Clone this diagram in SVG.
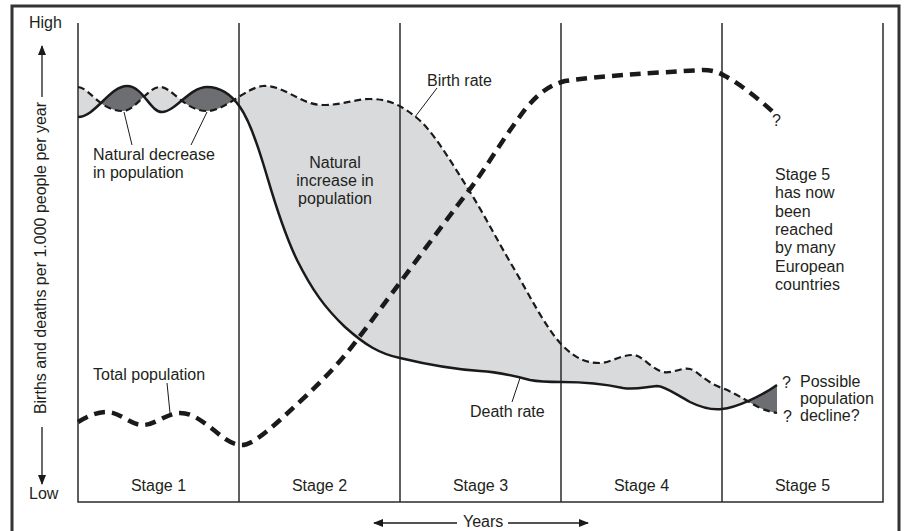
<svg xmlns="http://www.w3.org/2000/svg" width="905" height="531" viewBox="0 0 905 531">
  <style>
    text { font-family: "Liberation Sans", Arial, sans-serif; font-size: 16px; fill: #231f20; }
    .mid { text-anchor: middle; }
    .frame { fill: none; stroke: #333; stroke-width: 3; }
    .grid { fill: none; stroke: #2b2b2b; stroke-width: 1.5; }
    .death { fill: none; stroke: #1a1a1a; stroke-width: 2.5; }
    .birth { fill: none; stroke: #1a1a1a; stroke-width: 2.2; stroke-dasharray: 7 4; }
    .total { fill: none; stroke: #1a1a1a; stroke-width: 4.5; stroke-dasharray: 11 7; }
    .lead { fill: none; stroke: #1a1a1a; stroke-width: 1; }
    .axis { fill: none; stroke: #1a1a1a; stroke-width: 1.3; }
    .light { fill: #d9dadc; }
    .dark { fill: #6d6e71; }
  </style>
  <defs>
    <marker id="ah" viewBox="0 0 10 8" refX="9" refY="4" markerWidth="10" markerHeight="8" markerUnits="userSpaceOnUse" orient="auto">
      <path d="M0,0 L10,4 L0,8 Z" fill="#1a1a1a"/>
    </marker>
    <clipPath id="belowB">
      <path d="M78,87 C90,88 100,111 123,111 C135,111 148,87 160,87 C172,87 185,111 207,111 C225,111 245,88 263,86 C285,85 300,105 323,105 C343,105 355,99 370,99 C390,99 402,106 417,118 C432,130 450,160 467,187 C484,214 497,240 513,267 C530,296 545,327 562,345 C575,358 585,363 600,363 C610,363 620,355 633,355 C642,355 650,368 663,372 C672,374 682,367 690,369 C698,371 705,382 722,388 C735,393 745,400 760,408 C767,411 772,412 777,413 L777,600 L78,600 Z"/>
    </clipPath>
    <clipPath id="aboveB">
      <path d="M78,87 C90,88 100,111 123,111 C135,111 148,87 160,87 C172,87 185,111 207,111 C225,111 245,88 263,86 C285,85 300,105 323,105 C343,105 355,99 370,99 C390,99 402,106 417,118 C432,130 450,160 467,187 C484,214 497,240 513,267 C530,296 545,327 562,345 C575,358 585,363 600,363 C610,363 620,355 633,355 C642,355 650,368 663,372 C672,374 682,367 690,369 C698,371 705,382 722,388 C735,393 745,400 760,408 C767,411 772,412 777,413 L777,0 L78,0 Z"/>
    </clipPath>
  </defs>

  <rect class="frame" x="12" y="6" width="887" height="540"/>

  <g id="fills">
    <path class="light" clip-path="url(#belowB)" d="M78,117 C95,117 110,86 127,86 C143,86 150,112 162,112 C175,112 190,87 207,87 C222,87 233,97 240,107 C247,117 256,140 263,163 C270,185 280,225 297,260 C312,290 325,308 345,327 C365,345 380,354 400,358 C425,364 450,369 480,371 C500,372 515,376 530,380 C540,382 550,382 562,382 C580,382 600,383 623,388 C635,390 645,387 657,386 C665,386 675,394 690,402 C700,407 712,410 722,409 C735,408 760,397 777,385 L777,0 L78,0 Z"/>
    <path class="dark" clip-path="url(#aboveB)" d="M78,117 C95,117 110,86 127,86 C143,86 150,112 162,112 C175,112 190,87 207,87 C222,87 233,97 240,107 C247,117 256,140 263,163 C270,185 280,225 297,260 C312,290 325,308 345,327 C365,345 380,354 400,358 C425,364 450,369 480,371 C500,372 515,376 530,380 C540,382 550,382 562,382 C580,382 600,383 623,388 C635,390 645,387 657,386 C665,386 675,394 690,402 C700,407 712,410 722,409 C735,408 760,397 777,385 L777,600 L78,600 Z"/>
  </g>

  <g id="stages">
    <path class="grid" d="M78,23 V502 H883 V23 M239,23 V502 M400,23 V502 M561,23 V502 M722,23 V502"/>
    <text class="mid" x="158.5" y="491">Stage 1</text>
    <text class="mid" x="319.5" y="491">Stage 2</text>
    <text class="mid" x="480.5" y="491">Stage 3</text>
    <text class="mid" x="641.5" y="491">Stage 4</text>
    <text class="mid" x="802.5" y="491">Stage 5</text>
  </g>

  <g id="axes">
    <text x="29" y="28">High</text>
    <text x="29" y="499">Low</text>
    <text class="mid" transform="translate(46,258) rotate(-90)">Births and deaths per 1.000 people per year</text>
    <path class="axis" d="M42,97 V46" marker-end="url(#ah)"/>
    <path class="axis" d="M42,427 V484" marker-end="url(#ah)"/>
    <path class="axis" d="M457,523 H374" marker-end="url(#ah)"/>
    <path class="axis" d="M508,523 H588" marker-end="url(#ah)"/>
    <text x="463" y="527">Years</text>
  </g>

  <g id="connectors">
    <path id="death-rate" class="death" d="M78,117 C95,117 110,86 127,86 C143,86 150,112 162,112 C175,112 190,87 207,87 C222,87 233,97 240,107 C247,117 256,140 263,163 C270,185 280,225 297,260 C312,290 325,308 345,327 C365,345 380,354 400,358 C425,364 450,369 480,371 C500,372 515,376 530,380 C540,382 550,382 562,382 C580,382 600,383 623,388 C635,390 645,387 657,386 C665,386 675,394 690,402 C700,407 712,410 722,409 C735,408 760,397 777,385"/>
    <path id="birth-rate" class="birth" d="M78,87 C90,88 100,111 123,111 C135,111 148,87 160,87 C172,87 185,111 207,111 C225,111 245,88 263,86 C285,85 300,105 323,105 C343,105 355,99 370,99 C390,99 402,106 417,118 C432,130 450,160 467,187 C484,214 497,240 513,267 C530,296 545,327 562,345 C575,358 585,363 600,363 C610,363 620,355 633,355 C642,355 650,368 663,372 C672,374 682,367 690,369 C698,371 705,382 722,388 C735,393 745,400 760,408 C767,411 772,412 777,413"/>
    <path id="total-population" class="total" d="M78,422 C88,416 97,412 107,412 C120,412 130,425 143,425 C155,425 167,413 180,413 C192,413 200,420 210,427 C220,435 230,445 242,445 C255,445 280,420 307,395 C325,378 342,360 357,340 C380,310 440,228 467,193 C485,170 505,135 527,107 C540,92 550,85 565,81 C600,76 650,73 703,70 C712,70 718,72 725,76 C740,84 760,100 773,112"/>
    <path class="lead" d="M124,112 L132,145 M207,112 L191,145 M437,88 L415,117 M520,378 L512,402 M167,383 L170,413"/>
  </g>

  <g id="labels">
    <text x="93" y="160">Natural decrease</text>
    <text x="93" y="178">in population</text>
    <text class="mid" x="335" y="168">Natural</text>
    <text class="mid" x="335" y="186">increase in</text>
    <text class="mid" x="335" y="204">population</text>
    <text x="427" y="86">Birth rate</text>
    <text x="470" y="417">Death rate</text>
    <text x="93" y="380">Total population</text>
    <text x="772" y="126">?</text>
    <text x="782" y="388">?</text>
    <text x="783" y="422">?</text>
    <text x="800" y="387">Possible</text>
    <text x="800" y="404">population</text>
    <text x="800" y="421">decline?</text>
    <text x="775" y="180">Stage 5</text>
    <text x="775" y="198">has now</text>
    <text x="775" y="217">been</text>
    <text x="775" y="235">reached</text>
    <text x="775" y="253">by many</text>
    <text x="775" y="272">European</text>
    <text x="775" y="290">countries</text>
  </g>
</svg>
